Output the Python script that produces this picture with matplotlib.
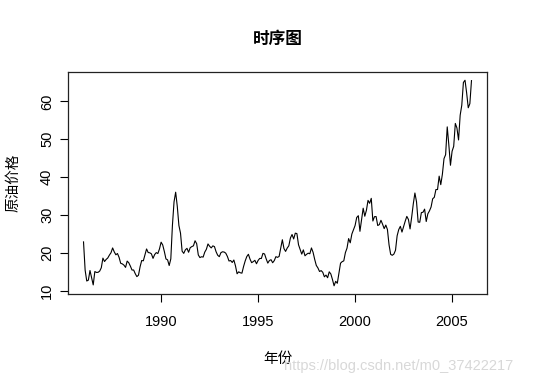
import numpy as np
import matplotlib.pyplot as plt

plt.rcParams['font.family'] = ['Liberation Sans', 'Noto Sans CJK SC', 'DejaVu Sans']

# monthly crude oil price, Jan 1986 - Jan 2006
start_year = 1986
price = [
    22.93, 15.46, 12.61, 12.84, 15.38, 13.43, 11.58, 15.10, 14.87, 14.90, 15.22, 16.11,
    18.65, 17.75, 18.30, 18.68, 19.44, 20.07, 21.34, 20.31, 19.53, 19.86, 18.85, 17.28,
    17.13, 16.80, 16.20, 17.86, 17.42, 16.53, 15.50, 15.52, 14.54, 13.77, 14.14, 16.38,
    18.02, 17.94, 19.48, 21.07, 20.12, 20.05, 19.78, 18.58, 19.59, 20.10, 19.86, 21.10,
    22.86, 22.11, 20.39, 18.43, 18.20, 16.70, 18.45, 27.31, 33.51, 36.04, 32.33, 27.28,
    25.23, 20.48, 19.90, 20.83, 21.23, 20.19, 21.40, 21.69, 21.89, 23.23, 22.46, 19.50,
    18.79, 19.01, 18.92, 20.23, 20.98, 22.39, 21.78, 21.34, 21.88, 21.69, 20.34, 19.41,
    19.03, 20.09, 20.32, 20.25, 19.95, 19.09, 17.89, 18.01, 17.50, 18.15, 16.61, 14.52,
    15.03, 14.78, 14.68, 16.42, 17.89, 19.06, 19.66, 18.38, 17.45, 17.72, 18.07, 17.16,
    18.04, 18.57, 18.54, 19.90, 19.74, 18.45, 17.33, 18.02, 18.23, 17.43, 17.99, 19.03,
    18.85, 19.09, 21.33, 23.50, 21.17, 20.42, 21.30, 21.90, 23.97, 24.88, 23.71, 25.23,
    25.13, 22.18, 20.97, 19.70, 20.82, 19.26, 19.66, 19.95, 19.80, 21.33, 20.19, 18.33,
    16.72, 16.06, 15.12, 15.35, 14.91, 13.72, 14.17, 13.47, 15.03, 14.46, 13.00, 11.35,
    12.52, 12.01, 14.68, 17.31, 17.72, 17.92, 20.10, 21.28, 23.80, 22.69, 25.00, 26.10,
    27.26, 29.37, 29.84, 25.72, 28.79, 31.82, 29.70, 31.26, 33.88, 33.11, 34.42, 28.44,
    29.59, 29.61, 27.25, 27.49, 28.63, 27.60, 26.43, 27.37, 26.20, 22.17, 19.64, 19.39,
    19.72, 20.72, 24.53, 26.18, 27.04, 25.52, 26.97, 28.39, 29.66, 28.84, 26.35, 29.46,
    32.95, 35.83, 33.51, 28.17, 28.11, 30.66, 30.75, 31.57, 28.31, 30.34, 31.11, 32.13,
    34.31, 34.69, 36.74, 36.75, 40.28, 38.03, 40.78, 44.90, 45.94, 53.28, 48.47, 43.15,
    46.84, 48.15, 54.19, 52.98, 49.83, 56.35, 59.00, 64.99, 65.59, 62.26, 58.32, 59.41,
    65.49,
]
x_ticks = [1990, 1995, 2000, 2005]
y_ticks = [10, 20, 30, 40, 50, 60]

t = start_year + np.arange(len(price)) / 12.0

fig = plt.figure(figsize=(5.54, 3.85), dpi=100)
ax = fig.add_axes([68 / 554, 1 - 294 / 385, (487 - 68) / 554, (294 - 72) / 385])

ax.plot(t, price, color='black', lw=0.8)

# R style 4% padding around the data range
pad_x = (t[-1] - t[0]) * 0.04
pad_y = (max(price) - min(price)) * 0.04
ax.set_xlim(t[0] - pad_x, t[-1] + pad_x)
ax.set_ylim(min(price) - pad_y, max(price) + pad_y)

ax.set_xticks(x_ticks)
ax.set_yticks(y_ticks)
ax.tick_params(direction='out', length=6, width=0.8, labelsize=10.5, color='black', pad=9)
ax.tick_params(axis='y', pad=4)
for lab in ax.get_yticklabels():
    lab.set_rotation(90)
    lab.set_va('center')
for s in ax.spines.values():
    s.set_linewidth(0.9)
    s.set_color('#222222')

ax.set_title('时序图', fontsize=12, fontweight='bold', pad=20,
             family=['Noto Sans CJK SC'])
ax.set_xlabel('年份', fontsize=10.5, labelpad=16.5, family=['Noto Sans CJK SC'])
ax.set_ylabel('原油价格', fontsize=10.5, labelpad=14, family=['Noto Sans CJK SC'])

# watermark of the source image
fig.text(0.927, 0.031, 'https://blog.csdn.net/m0_37422217', color='#d8d8d8',
         fontsize=10.5, ha='right', va='bottom')

fig.savefig('out.png', dpi=100)
